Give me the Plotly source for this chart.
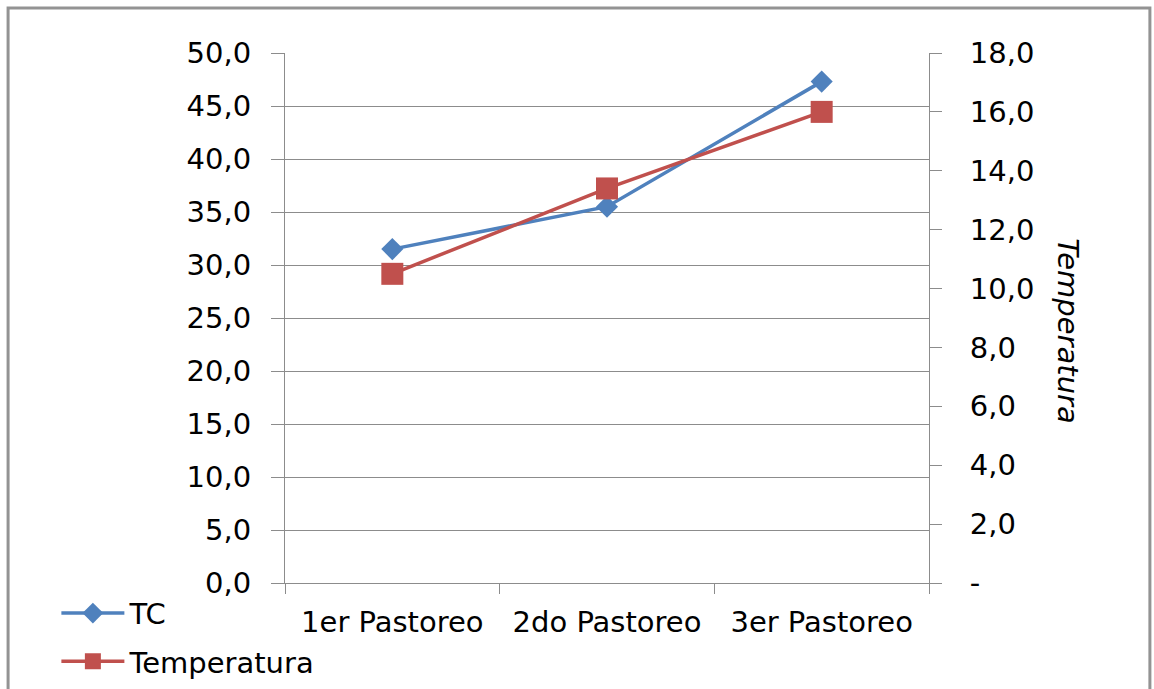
import plotly.graph_objects as go

# Grazing rounds and the two measured series
categories = ["1er Pastoreo", "2do Pastoreo", "3er Pastoreo"]
tc_values = [31.5, 35.5, 47.3]
temperatura_values = [10.5, 13.4, 16.0]

# Right-axis ticks (zero shown as a dash)
temp_ticks = [0, 2, 4, 6, 8, 10, 12, 14, 16, 18]
temp_ticktext = ["-" if v == 0 else f"{v:.1f}".replace(".", ",") for v in temp_ticks]

FONT = "DejaVu Sans"
BLUE = "#4F81BD"
RED = "#C0504D"
GRID = "#8c8c8c"

fig = go.Figure()

fig.add_trace(go.Scatter(
    x=categories, y=tc_values, name="TC",
    mode="lines+markers",
    line=dict(color=BLUE, width=3.5),
    marker=dict(symbol="diamond", size=17, color=BLUE),
    legend="legend",
))

fig.add_trace(go.Scatter(
    x=categories, y=temperatura_values, name="Temperatura",
    mode="lines+markers", yaxis="y2",
    line=dict(color=RED, width=3.5),
    marker=dict(symbol="square", size=22, color=RED),
    legend="legend2",
))

fig.update_layout(
    width=1154, height=689,
    margin=dict(l=285, r=225, t=53, b=106, autoexpand=False),
    paper_bgcolor="white", plot_bgcolor="white",
    separators=",.",
    showlegend=True,
    font=dict(family=FONT, size=29, color="#000000"),
    xaxis=dict(
        type="category", range=[-0.5, 2.5],
        tickson="boundaries", ticks="outside", ticklen=10, tickcolor=GRID,
        showline=True, linecolor=GRID, linewidth=1,
        showgrid=False, ticklabelstandoff=13,
        tickfont=dict(family=FONT, size=29),
    ),
    yaxis=dict(
        range=[0, 50], dtick=5, tickformat=".1f",
        ticks="outside", ticklen=13, tickcolor=GRID,
        showline=True, linecolor=GRID, linewidth=1,
        showgrid=True, gridcolor=GRID, gridwidth=1,
        zeroline=False, ticklabelstandoff=14,
        tickfont=dict(family=FONT, size=29),
    ),
    yaxis2=dict(
        overlaying="y", side="right", range=[0, 18],
        tickvals=temp_ticks, ticktext=temp_ticktext,
        ticks="outside", ticklen=12, tickcolor=GRID,
        showline=True, linecolor=GRID, linewidth=1,
        showgrid=False, zeroline=False, ticklabelstandoff=22,
        tickfont=dict(family=FONT, size=29),
    ),
    legend=dict(
        x=-0.355, y=-0.057, xanchor="left", yanchor="middle",
        itemwidth=63, bgcolor="rgba(0,0,0,0)",
        font=dict(family=FONT, size=29),
    ),
    legend2=dict(
        x=-0.355, y=-0.148, xanchor="left", yanchor="middle",
        itemwidth=63, bgcolor="rgba(0,0,0,0)",
        font=dict(family=FONT, size=29),
    ),
    annotations=[dict(
        text="<i>Temperatura</i>", xref="paper", yref="paper",
        x=1.216, y=0.475, xanchor="center", yanchor="middle",
        showarrow=False, textangle=90,
        font=dict(family=FONT, size=29, color="#000000"),
    )],
    shapes=[dict(
        type="rect", xref="paper", yref="paper",
        x0=-0.430, x1=1.343, y0=-0.35, y1=1.085,
        line=dict(color="#939393", width=3), layer="below",
    )],
)

fig.write_html("out.html")
